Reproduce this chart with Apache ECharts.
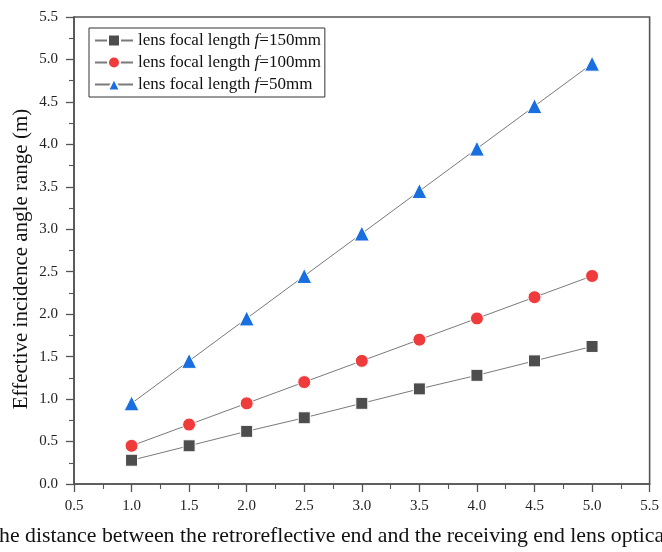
<!DOCTYPE html>
<html><head><meta charset="utf-8">
<script src="https://cdn.jsdelivr.net/npm/echarts@6/dist/echarts.min.js"></script>
<style>html,body{margin:0;padding:0;background:#fff}#c{width:662px;height:552px}</style>
</head><body><div id="c"></div>
<script>
var xValues = [1.0, 1.5, 2.0, 2.5, 3.0, 3.5, 4.0, 4.5, 5.0];
var f150 = [0.28, 0.45, 0.62, 0.78, 0.95, 1.12, 1.28, 1.45, 1.62];
var f100 = [0.45, 0.70, 0.95, 1.20, 1.45, 1.70, 1.95, 2.20, 2.45];
var f50  = [0.95, 1.45, 1.95, 2.45, 2.95, 3.45, 3.95, 4.45, 4.95];
var seriesNames = ['f150', 'f100', 'f50'];
var legendLabels = ['=150mm', '=100mm', '=50mm'];
var yTitle = 'Effective incidence angle range (m)';
var xTitle = 'he distance between the retroreflective end and the receiving end lens optica';

var FONT = '"Liberation Serif", "Times New Roman", serif';
function pairs(ys){ return xValues.map(function(x,i){return [x, ys[i]];}); }
var chart = echarts.init(document.getElementById('c'));
var axisCommon = {
  axisLine:{show:true, lineStyle:{color:'#555', width:1.6}},
  axisTick:{show:true, inside:false, length:8, lineStyle:{color:'#555', width:1.3}},
  minorTick:{show:true, splitNumber:2, length:5, lineStyle:{color:'#555', width:1.1}},
  splitLine:{show:false},
  axisLabel:{fontFamily:FONT, fontSize:15, color:'#222', formatter:function(v){return v.toFixed(1);}}
};
function mkSeries(name, data, symbol, color, size){
  return {
    name:name, type:'line', data:pairs(data), symbol:symbol, symbolSize:size,
    lineStyle:{color:'#7a7a7a', width:1},
    itemStyle:{color:color, borderColor:'#fff', borderWidth:1},
    emphasis:{disabled:true}
  };
}
chart.setOption({
  animation:false,
  backgroundColor:'#fff',
  grid:{left:74, right:9, top:17, bottom:68, show:true, borderColor:'#555', borderWidth:1.6, backgroundColor:'transparent'},
  xAxis:Object.assign({type:'value', min:0.5, max:5.5, interval:0.5}, axisCommon, {axisLabel:Object.assign({}, axisCommon.axisLabel, {margin:15})}),
  yAxis:Object.assign({type:'value', min:0, max:5.5, interval:0.5}, axisCommon, {axisLabel:Object.assign({}, axisCommon.axisLabel, {margin:16})}),
  legend:{
    orient:'vertical', left:89, top:28, itemWidth:38, itemHeight:15, itemGap:5,
    padding:[4,4,4,5], borderColor:'#333', borderWidth:1, backgroundColor:'#fff',
    data:seriesNames,
    formatter:function(n){ var i = seriesNames.indexOf(n); return '{a|lens focal length }{i|f}{a|' + legendLabels[i] + '}'; },
    textStyle:{fontFamily:FONT, fontSize:17, color:'#111',
      rich:{a:{fontFamily:FONT, fontSize:17, color:'#111', lineHeight:18}, i:{fontFamily:FONT, fontSize:17, fontStyle:'italic', color:'#111', lineHeight:18}}}
  },
  series:[
    mkSeries('f150', f150, 'rect', '#4d4d4d', 12),
    mkSeries('f100', f100, 'circle', '#ef3b3b', 13),
    mkSeries('f50', f50, 'triangle', '#1a6fe0', 15)
  ],
  graphic:[
    {type:'text', left:-1, top:525, style:{text:xTitle, font:'21.8px ' + FONT, fill:'#111'}},
    {type:'text', x:21, y:259, rotation:Math.PI/2, style:{text:yTitle, font:'21px ' + FONT, fill:'#111', align:'center', verticalAlign:'middle'}}
  ]
});
</script></body></html>
